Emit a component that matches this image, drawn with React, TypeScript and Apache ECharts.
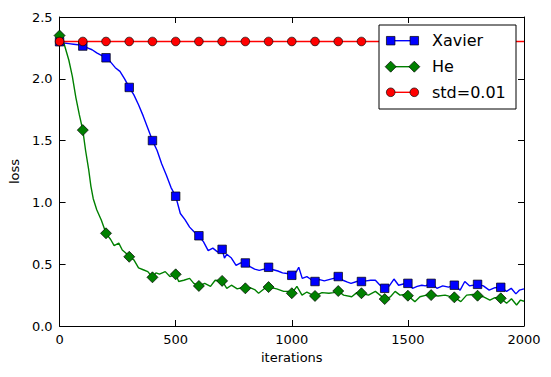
import React, { useEffect, useRef } from "react";
import * as echarts from "echarts";

const xavierIter = [0, 20, 40, 60, 80, 100, 120, 140, 160, 180, 200, 220, 240, 260, 280, 300, 320, 340, 360, 380, 400, 420, 440, 460, 480, 500, 520, 540, 560, 580, 600, 620, 640, 660, 680, 700, 710, 720, 740, 760, 780, 800, 820, 840, 860, 880, 900, 920, 940, 960, 980, 1000, 1020, 1030, 1045, 1065, 1080, 1100, 1120, 1140, 1160, 1180, 1200, 1220, 1240, 1255, 1280, 1300, 1320, 1340, 1360, 1380, 1400, 1420, 1440, 1460, 1480, 1500, 1520, 1540, 1560, 1575, 1600, 1625, 1650, 1675, 1700, 1725, 1745, 1765, 1780, 1800, 1825, 1850, 1875, 1900, 1925, 1945, 1965, 1980, 2000];
const xavierLoss = [2.30, 2.29, 2.285, 2.28, 2.275, 2.265, 2.25, 2.235, 2.21, 2.19, 2.17, 2.135, 2.09, 2.06, 2.0, 1.93, 1.87, 1.79, 1.70, 1.60, 1.50, 1.42, 1.31, 1.22, 1.12, 1.05, 0.91, 0.86, 0.80, 0.76, 0.73, 0.68, 0.61, 0.63, 0.60, 0.62, 0.55, 0.58, 0.55, 0.49, 0.51, 0.51, 0.48, 0.46, 0.45, 0.46, 0.475, 0.455, 0.445, 0.43, 0.425, 0.41, 0.44, 0.475, 0.385, 0.40, 0.38, 0.36, 0.375, 0.365, 0.375, 0.385, 0.40, 0.37, 0.355, 0.345, 0.36, 0.36, 0.365, 0.37, 0.37, 0.33, 0.305, 0.325, 0.38, 0.33, 0.34, 0.345, 0.305, 0.32, 0.33, 0.325, 0.345, 0.305, 0.325, 0.315, 0.33, 0.29, 0.36, 0.325, 0.33, 0.337, 0.325, 0.29, 0.31, 0.313, 0.28, 0.305, 0.26, 0.29, 0.30];

const heIter = [0, 20, 40, 55, 70, 85, 100, 112, 125, 135, 145, 160, 180, 200, 220, 235, 255, 270, 285, 300, 320, 340, 360, 380, 400, 415, 430, 455, 475, 500, 513, 535, 560, 578, 600, 625, 650, 670, 700, 720, 740, 765, 785, 800, 820, 840, 857, 880, 900, 935, 965, 985, 1000, 1022, 1044, 1065, 1080, 1100, 1130, 1160, 1180, 1200, 1223, 1258, 1280, 1300, 1330, 1360, 1380, 1400, 1424, 1445, 1466, 1485, 1500, 1530, 1552, 1580, 1600, 1630, 1660, 1680, 1700, 1728, 1753, 1780, 1800, 1824, 1853, 1875, 1900, 1925, 1946, 1968, 1985, 2000];
const heLoss = [2.35, 2.28, 2.15, 2.02, 1.85, 1.71, 1.585, 1.42, 1.27, 1.13, 1.03, 0.94, 0.855, 0.75, 0.70, 0.65, 0.67, 0.615, 0.59, 0.56, 0.535, 0.47, 0.455, 0.44, 0.394, 0.43, 0.42, 0.44, 0.40, 0.418, 0.36, 0.37, 0.385, 0.345, 0.324, 0.345, 0.32, 0.37, 0.365, 0.305, 0.33, 0.30, 0.31, 0.305, 0.31, 0.295, 0.265, 0.30, 0.315, 0.30, 0.28, 0.28, 0.265, 0.32, 0.25, 0.275, 0.26, 0.243, 0.27, 0.265, 0.27, 0.283, 0.25, 0.237, 0.27, 0.265, 0.25, 0.28, 0.25, 0.218, 0.235, 0.28, 0.25, 0.255, 0.245, 0.197, 0.237, 0.25, 0.25, 0.243, 0.25, 0.24, 0.232, 0.197, 0.25, 0.255, 0.245, 0.237, 0.21, 0.23, 0.224, 0.184, 0.22, 0.17, 0.21, 0.20];

const stdIter = [0, 100, 200, 300, 400, 500, 600, 700, 800, 900, 1000, 1100, 1200, 1300, 1400, 1500, 1600, 1700, 1800, 1900, 2000];
const stdLoss = [2.302, 2.302, 2.302, 2.302, 2.302, 2.302, 2.302, 2.302, 2.302, 2.302, 2.302, 2.302, 2.302, 2.302, 2.302, 2.302, 2.302, 2.302, 2.302, 2.302, 2.302];

const xTicks = { min: 0, max: 2000, interval: 500 };
const yTicks = { min: 0, max: 2.5, interval: 0.5 };

const legendNames = ["Xavier", "He", "std=0.01"];
const colors = ["#0000ff", "#008000", "#ff0000"];

const FONT = "DejaVu Sans";

function markerData(iters: number[], vals: number[], symbol: string) {
  return iters.map((x, i) => ({
    value: [x, vals[i]],
    symbol: x % 100 === 0 && x < 2000 ? symbol : "none",
  }));
}

export default function App() {
  const ref = useRef<HTMLDivElement>(null);
  useEffect(() => {
    if (!ref.current) return;
    const chart = echarts.init(ref.current, undefined, { renderer: "svg" });
    const axisCommon = {
      axisLine: { show: true, onZero: false, lineStyle: { color: "#000", width: 1 } },
      axisTick: { show: true, inside: true, length: 6, lineStyle: { color: "#000", width: 1 } },
      splitLine: { show: false },
    };
    const lineSeries = (name: string, data: any[], color: string, size: any) => ({
      name,
      type: "line",
      data,
      showAllSymbol: true,
      symbolSize: size,
      color,
      lineStyle: { color, width: 1.4, opacity: 1 },
      itemStyle: { color, borderColor: "#000", borderWidth: 0.7 },
      emphasis: { disabled: true },
      z: 2,
    });

    // legend drawn in matplotlib style
    const lx = 379, ly = 25, lw = 137, lh = 84;
    const rows = [40.7, 66.7, 92.3];
    const m1 = 390.7, m2 = 414.3;
    const Z = 100;
    const legendEls: any[] = [
      { type: "rect", z: Z, shape: { x: lx, y: ly, width: lw, height: lh }, style: { fill: "#fff", stroke: "#000", lineWidth: 1 } },
    ];
    rows.forEach((y, i) => {
      legendEls.push({ type: "line", z: Z + 1, shape: { x1: m1, y1: y, x2: m2, y2: y }, style: { stroke: colors[i], lineWidth: 1.4 } });
      [m1, m2].forEach((mx) => {
        if (i === 0) {
          legendEls.push({ type: "rect", z: Z + 2, shape: { x: mx - 4.25, y: y - 4.25, width: 8.5, height: 8.5 }, style: { fill: colors[i], stroke: "#000", lineWidth: 0.7 } });
        } else if (i === 1) {
          legendEls.push({ type: "polygon", z: Z + 2, shape: { points: [[mx, y - 5.5], [mx + 5.5, y], [mx, y + 5.5], [mx - 5.5, y]] }, style: { fill: colors[i], stroke: "#000", lineWidth: 0.7 } });
        } else {
          legendEls.push({ type: "circle", z: Z + 2, shape: { cx: mx, cy: y, r: 4.3 }, style: { fill: colors[i], stroke: "#000", lineWidth: 0.7 } });
        }
      });
      legendEls.push({ type: "text", z: Z + 2, x: 432, y, style: { text: legendNames[i], font: `16px '${FONT}'`, fill: "#000", verticalAlign: "middle", textAlign: "left" } });
    });

    chart.setOption({
      animation: false,
      backgroundColor: "#fff",
      textStyle: { fontFamily: FONT },
      grid: { left: 59, right: 27, top: 17, bottom: 51, containLabel: false },
      xAxis: [
        {
          type: "value", ...xTicks, position: "bottom",
          name: "iterations", nameLocation: "middle", nameGap: 25,
          nameTextStyle: { fontSize: 13, color: "#000", fontFamily: FONT },
          axisLabel: { fontSize: 13, color: "#000", margin: 7, fontFamily: FONT, formatter: (v: number) => String(v) },
          ...axisCommon,
        },
        {
          type: "value", ...xTicks, position: "top",
          axisLabel: { show: false },
          ...axisCommon,
        },
      ],
      yAxis: [
        {
          type: "value", ...yTicks, position: "left",
          name: "loss", nameLocation: "middle", nameGap: 37, nameRotate: 90,
          nameTextStyle: { fontSize: 13, color: "#000", fontFamily: FONT },
          axisLabel: { fontSize: 13, color: "#000", margin: 7, fontFamily: FONT, formatter: (v: number) => v.toFixed(1) },
          ...axisCommon,
        },
        {
          type: "value", ...yTicks, position: "right",
          axisLabel: { show: false },
          ...axisCommon,
        },
      ],
      series: [
        lineSeries(legendNames[0], markerData(xavierIter, xavierLoss, "rect"), colors[0], 8.5),
        lineSeries(legendNames[1], markerData(heIter, heLoss, "diamond"), colors[1], [11, 11]),
        lineSeries(legendNames[2], markerData(stdIter, stdLoss, "circle"), colors[2], 8.6),
      ],
      graphic: { elements: legendEls },
    });
    return () => chart.dispose();
  }, []);
  return <div ref={ref} style={{ position: "fixed", left: 0, top: 0, width: 551, height: 377 }} />;
}
